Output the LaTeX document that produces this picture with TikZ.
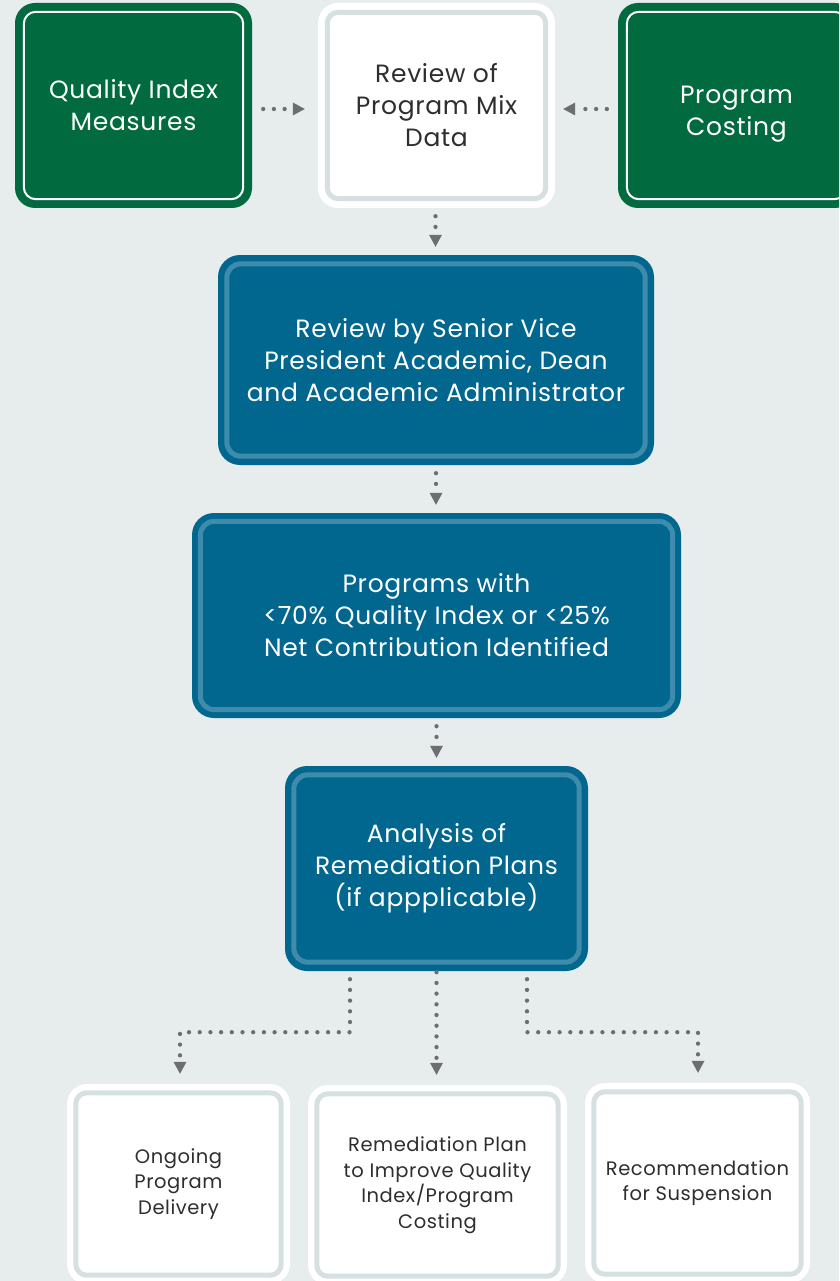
\documentclass[tikz,border=0pt]{standalone}
\usepackage{fontspec}
\setmainfont{Poppins}[LetterSpace=2.8]
\usetikzlibrary{arrows.meta,calc}
\definecolor{bg}{HTML}{E7ECEC}
\definecolor{dkgreen}{HTML}{026A3F}
\definecolor{dkblue}{HTML}{02678F}
\definecolor{ltblue}{HTML}{3F8BAB}
\definecolor{ringgrey}{HTML}{D6E0E0}
\definecolor{arrowgrey}{HTML}{6D6E71}
\definecolor{txtgrey}{HTML}{2E2E2E}
\begin{document}
\begin{tikzpicture}[x=1pt,y=-1pt,
  box/.style={rectangle, rounded corners=20pt, inner sep=0pt, align=center},
  bigfont/.style={font=\fontsize{25}{32}\selectfont},
  greenbox/.style={box, fill=dkgreen, text=white, bigfont},
  whitebox/.style={box, fill=white, text=txtgrey, bigfont},
  bluebox/.style={box, rounded corners=22pt, fill=dkblue, text=white, bigfont},
  smallbox/.style={box, fill=white, text=txtgrey, font=\fontsize{19.5}{25.5}\selectfont},
  conn/.style={draw=arrowgrey, line width=4.3pt, line cap=round, dash pattern=on 0pt off 10.7pt,
    -{Triangle[width=13pt,length=12pt,line width=0pt]}}
]
\useasboundingbox (0,0) rectangle (839,1281);
\fill[bg] (0,0) rectangle (839,1281);
\clip (0,0) rectangle (839,1281);

% top row
\node[greenbox, minimum width=237pt, minimum height=205pt] (q) at (133.5,105.5) {Quality Index\\Measures};
\node[whitebox, minimum width=237pt, minimum height=205pt] (r) at (436.5,105.5) {Review of\\Program Mix\\Data};
\node[greenbox, minimum width=237pt, minimum height=205pt,
  label={[yshift=-9pt, text=white, align=center, bigfont]center:Program\\Costing}] (p) at (736.5,105.5) {};

% blue boxes
\node[bluebox, minimum width=436pt, minimum height=210pt] (b1) at (436,360) {Review by Senior Vice\\President Academic, Dean\\and Academic Administrator};
\node[bluebox, minimum width=489pt, minimum height=205pt] (b2) at (436.5,615.5) {Programs with\\<70\% Quality Index or <25\%\\Net Contribution Identified};
\node[bluebox, minimum width=303pt, minimum height=205pt] (b3) at (436.5,868.5) {Analysis of\\Remediation Plans\\(if appplicable)};

% bottom row
\node[smallbox, minimum width=223pt, minimum height=200pt] (A) at (178.5,1184) {Ongoing\\Program\\Delivery};
\node[smallbox, minimum width=259pt, minimum height=200pt] (B) at (437.5,1185) {Remediation Plan\\to Improve Quality\\Index/Program\\Costing};
\node[smallbox, minimum width=225pt, minimum height=200pt] (C) at (697.5,1183) {Recommendation\\for Suspension};

% inner rings
\foreach \n/\c/\w/\i/\rr in {q/white/2/9/12, p/white/2/9/12, r/ringgrey/5/9.5/11,
    b1/ltblue/5/9/14, b2/ltblue/5/8.5/14, b3/ltblue/5/9/14,
    A/ringgrey/5/9/11, B/ringgrey/5/9/11, C/ringgrey/5/9/11}
  \draw[draw=\c, line width=\w pt, rounded corners=\rr pt]
    ($(\n.north west)+(\i,\i)$) rectangle ($(\n.south east)+(-\i,-\i)$);

% connectors
\draw[conn] ($(q.east)+(11,3.5)$) -- ($(r.west)+(-13,3.5)$);
\draw[conn] ($(p.west)+(-11,3.5)$) -- ($(r.east)+(8,3.5)$);
\draw[conn] ($(r.south)+(-1,8)$) -- ($(r.south|-b1.north)+(-1,-8)$);
\draw[conn] ($(b1.south)+(0,8)$) -- ($(b1.south|-b2.north)+(0,-8)$);
\draw[conn] ($(b2.south)+(0,8)$) -- ($(b2.south|-b3.north)+(0,-8)$);
\draw[conn] ($(b3.south)+(-86.5,8)$) -- ++(0,53) -| ($(A.north)+(1.5,-10)$);
\draw[conn] ($(b3.south)+(0,1)$) -- ($(b3.south|-B.north)+(0,-10)$);
\draw[conn] ($(b3.south)+(90.5,8)$) -- ++(0,53) -| ($(C.north)+(0.5,-10)$);
\end{tikzpicture}
\end{document}
